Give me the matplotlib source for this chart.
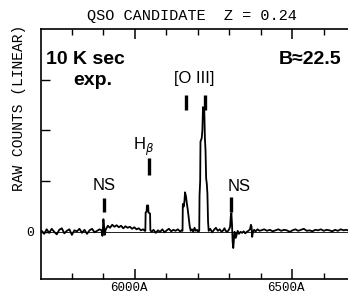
import matplotlib
matplotlib.use('Agg')
import matplotlib.pyplot as plt
from matplotlib.transforms import ScaledTranslation

# spectrum (wavelength in A, raw counts in tick units)
wave = [5705, 5713, 5721, 5729, 5737, 5745, 5753, 5761, 5769, 5777, 5785, 5793,
        5801, 5809, 5817, 5825, 5833, 5841, 5849, 5857, 5865, 5873, 5881, 5889, 5895,
        5898, 5901, 5903, 5905, 5908,
        5915, 5922, 5929, 5936, 5943, 5950, 5957, 5964, 5971, 5978, 5985, 5992,
        5999, 6006, 6013, 6020, 6027, 6032,
        6034, 6035, 6038, 6039, 6043, 6044, 6049, 6050, 6054,
        6060, 6067, 6074, 6081, 6088, 6095, 6102, 6109, 6116, 6123, 6130, 6137, 6144, 6150,
        6152, 6153, 6156, 6158, 6160, 6163, 6166, 6169, 6172, 6175, 6178, 6182,
        6186, 6190, 6194, 6198, 6202, 6205,
        6206, 6208, 6209, 6213, 6215, 6217, 6221, 6223, 6225, 6227, 6229, 6231, 6233, 6235,
        6240, 6246, 6252, 6258, 6264, 6270, 6276, 6281, 6285, 6289,
        6294, 6299, 6303, 6305, 6307, 6309, 6311, 6313, 6315, 6317,
        6319, 6321, 6324, 6327, 6331, 6336, 6341, 6346, 6351, 6356,
        6361, 6366, 6369, 6371, 6373, 6375, 6379, 6384, 6390, 6396,
        6402, 6411, 6420, 6429, 6438, 6447, 6456, 6465, 6474, 6483,
        6492, 6501, 6510, 6519, 6528, 6537, 6546, 6555, 6564, 6573,
        6582, 6591, 6600, 6609, 6618, 6627, 6636, 6645, 6654, 6663, 6672, 6680]
counts = [0.02, -0.04, 0.05, -0.02, 0.06, 0.00, -0.05, 0.04, 0.07, -0.03, 0.02, 0.05,
          -0.06, 0.03, 0.01, 0.06, -0.02, 0.04, -0.04, 0.03, 0.06, -0.01, 0.02, 0.05, 0.03,
          -0.08, 0.25, 0.12, -0.06, 0.04,
          0.12, 0.08, 0.14, 0.10, 0.13, 0.09, 0.12, 0.07, 0.11, 0.08, 0.10, 0.06,
          0.09, 0.05, 0.07, 0.03, 0.05, 0.02,
          0.02, 0.38, 0.40, 0.52, 0.52, 0.38, 0.36, 0.03, 0.00,
          0.04, -0.02, 0.03, 0.00, 0.05, -0.01, 0.03, 0.06, 0.01, 0.04, 0.02, 0.05, 0.01, 0.03,
          0.02, 0.55, 0.50, 0.60, 0.78, 0.70, 0.55, 0.42, 0.25, 0.10, 0.02, 0.05,
          0.00, 0.08, 0.02, 0.04, 0.00, 0.02,
          0.72, 1.00, 1.78, 1.85, 2.00, 2.46, 2.42, 1.85, 1.60, 1.05, 0.95, 0.75, 0.20, 0.02,
          0.06, -0.01, 0.04, 0.08, 0.02, 0.05, 0.00, 0.03, 0.07, 0.02,
          0.00, 0.04, 0.10, 0.30, 0.37, 0.15, -0.20, -0.32, -0.15, 0.00,
          -0.02, -0.12, -0.05, 0.02, -0.04, 0.00, -0.02, 0.01, -0.03, 0.00,
          0.02, 0.05, 0.14, 0.10, -0.10, -0.02, 0.04, 0.01, 0.05, 0.02,
          0.03, 0.05, 0.02, 0.04, 0.01, 0.03, 0.05, 0.02, 0.04, 0.03,
          0.00, 0.03, 0.05, 0.02, 0.04, 0.06, 0.02, 0.03, 0.01, 0.04,
          0.03, 0.05, 0.02, 0.04, 0.03, 0.01, 0.04, 0.02, 0.05, 0.03, 0.04, 0.02]

# line markers: wavelength, bar bottom, bar top
mark_wave = [5902, 6045, 6162, 6222, 6307]
mark_lo = [0.39, 1.12, 2.41, 2.41, 0.39]
mark_hi = [0.67, 1.46, 2.70, 2.70, 0.69]

label_text = ['NS', r'H$_\beta$', '[O III]', 'NS']
label_wave = [5902, 6028, 6190, 6330]
label_y = [0.91, 1.68, 3.02, 0.89]

major_ticks = [6000, 6500]
major_labels = ['6000A', '6500A']
minor_ticks = [5800, 5900, 6100, 6200, 6300, 6400, 6600]

mono = 'Liberation Mono'
sans = 'Liberation Sans'

fig = plt.figure(figsize=(3.48, 2.95), dpi=100)
ax = fig.add_axes([41 / 348, 1 - 279 / 295, 307 / 348, 250 / 295])

ax.axhline(0, color='black', lw=0.6)
ax.plot(wave, counts, color='black', lw=1.3)
ax.vlines(mark_wave, mark_lo, mark_hi, color='black', lw=2.4)
for t, xw, yv in zip(label_text, label_wave, label_y):
    ax.text(xw, yv, t, ha='center', va='center', fontsize=12, family=sans)

ax.text(5845, 3.39, '10 K sec', ha='center', va='center', fontsize=14,
        fontweight='bold', family=sans)
ax.text(5868, 2.98, 'exp.', ha='center', va='center', fontsize=14,
        fontweight='bold', family=sans)
ax.text(6557, 3.39, 'B\u224822.5', ha='center', va='center', fontsize=14,
        fontweight='bold', family=sans)

ax.set_xlim(5703, 6677)
ax.set_ylim(-0.93, 4.0)

ax.set_xticks(major_ticks)
ax.set_xticklabels(major_labels, family=mono, fontsize=9)
ax.set_xticks(minor_ticks, minor=True)
ax.set_yticks([0, 1, 2, 3])
ax.set_yticklabels(['0', '', '', ''], family=mono, fontsize=9.5)

ax.tick_params(axis='x', which='major', direction='in', length=7.5, width=1.1,
               top=True, pad=2)
ax.tick_params(axis='x', which='minor', direction='in', length=4.5, width=1.0,
               top=True)
ax.tick_params(axis='y', which='major', direction='in', length=6.5, width=1.0,
               pad=5)
for lbl in ax.get_xticklabels():
    lbl.set_transform(lbl.get_transform() + ScaledTranslation(-6 / 100, 0, fig.dpi_scale_trans))

for s in ['left', 'bottom', 'top']:
    ax.spines[s].set_linewidth(1.2)
ax.spines['right'].set_visible(False)

fig.text(19 / 348, 1 - 108 / 295, 'RAW COUNTS (LINEAR)', rotation=90,
         ha='center', va='center', fontsize=10.5, family=mono)
fig.text(192 / 348, 1 - 16 / 295, 'QSO CANDIDATE  Z = 0.24', ha='center',
         va='center', fontsize=11, family=mono)

fig.savefig('out.png', dpi=100)
